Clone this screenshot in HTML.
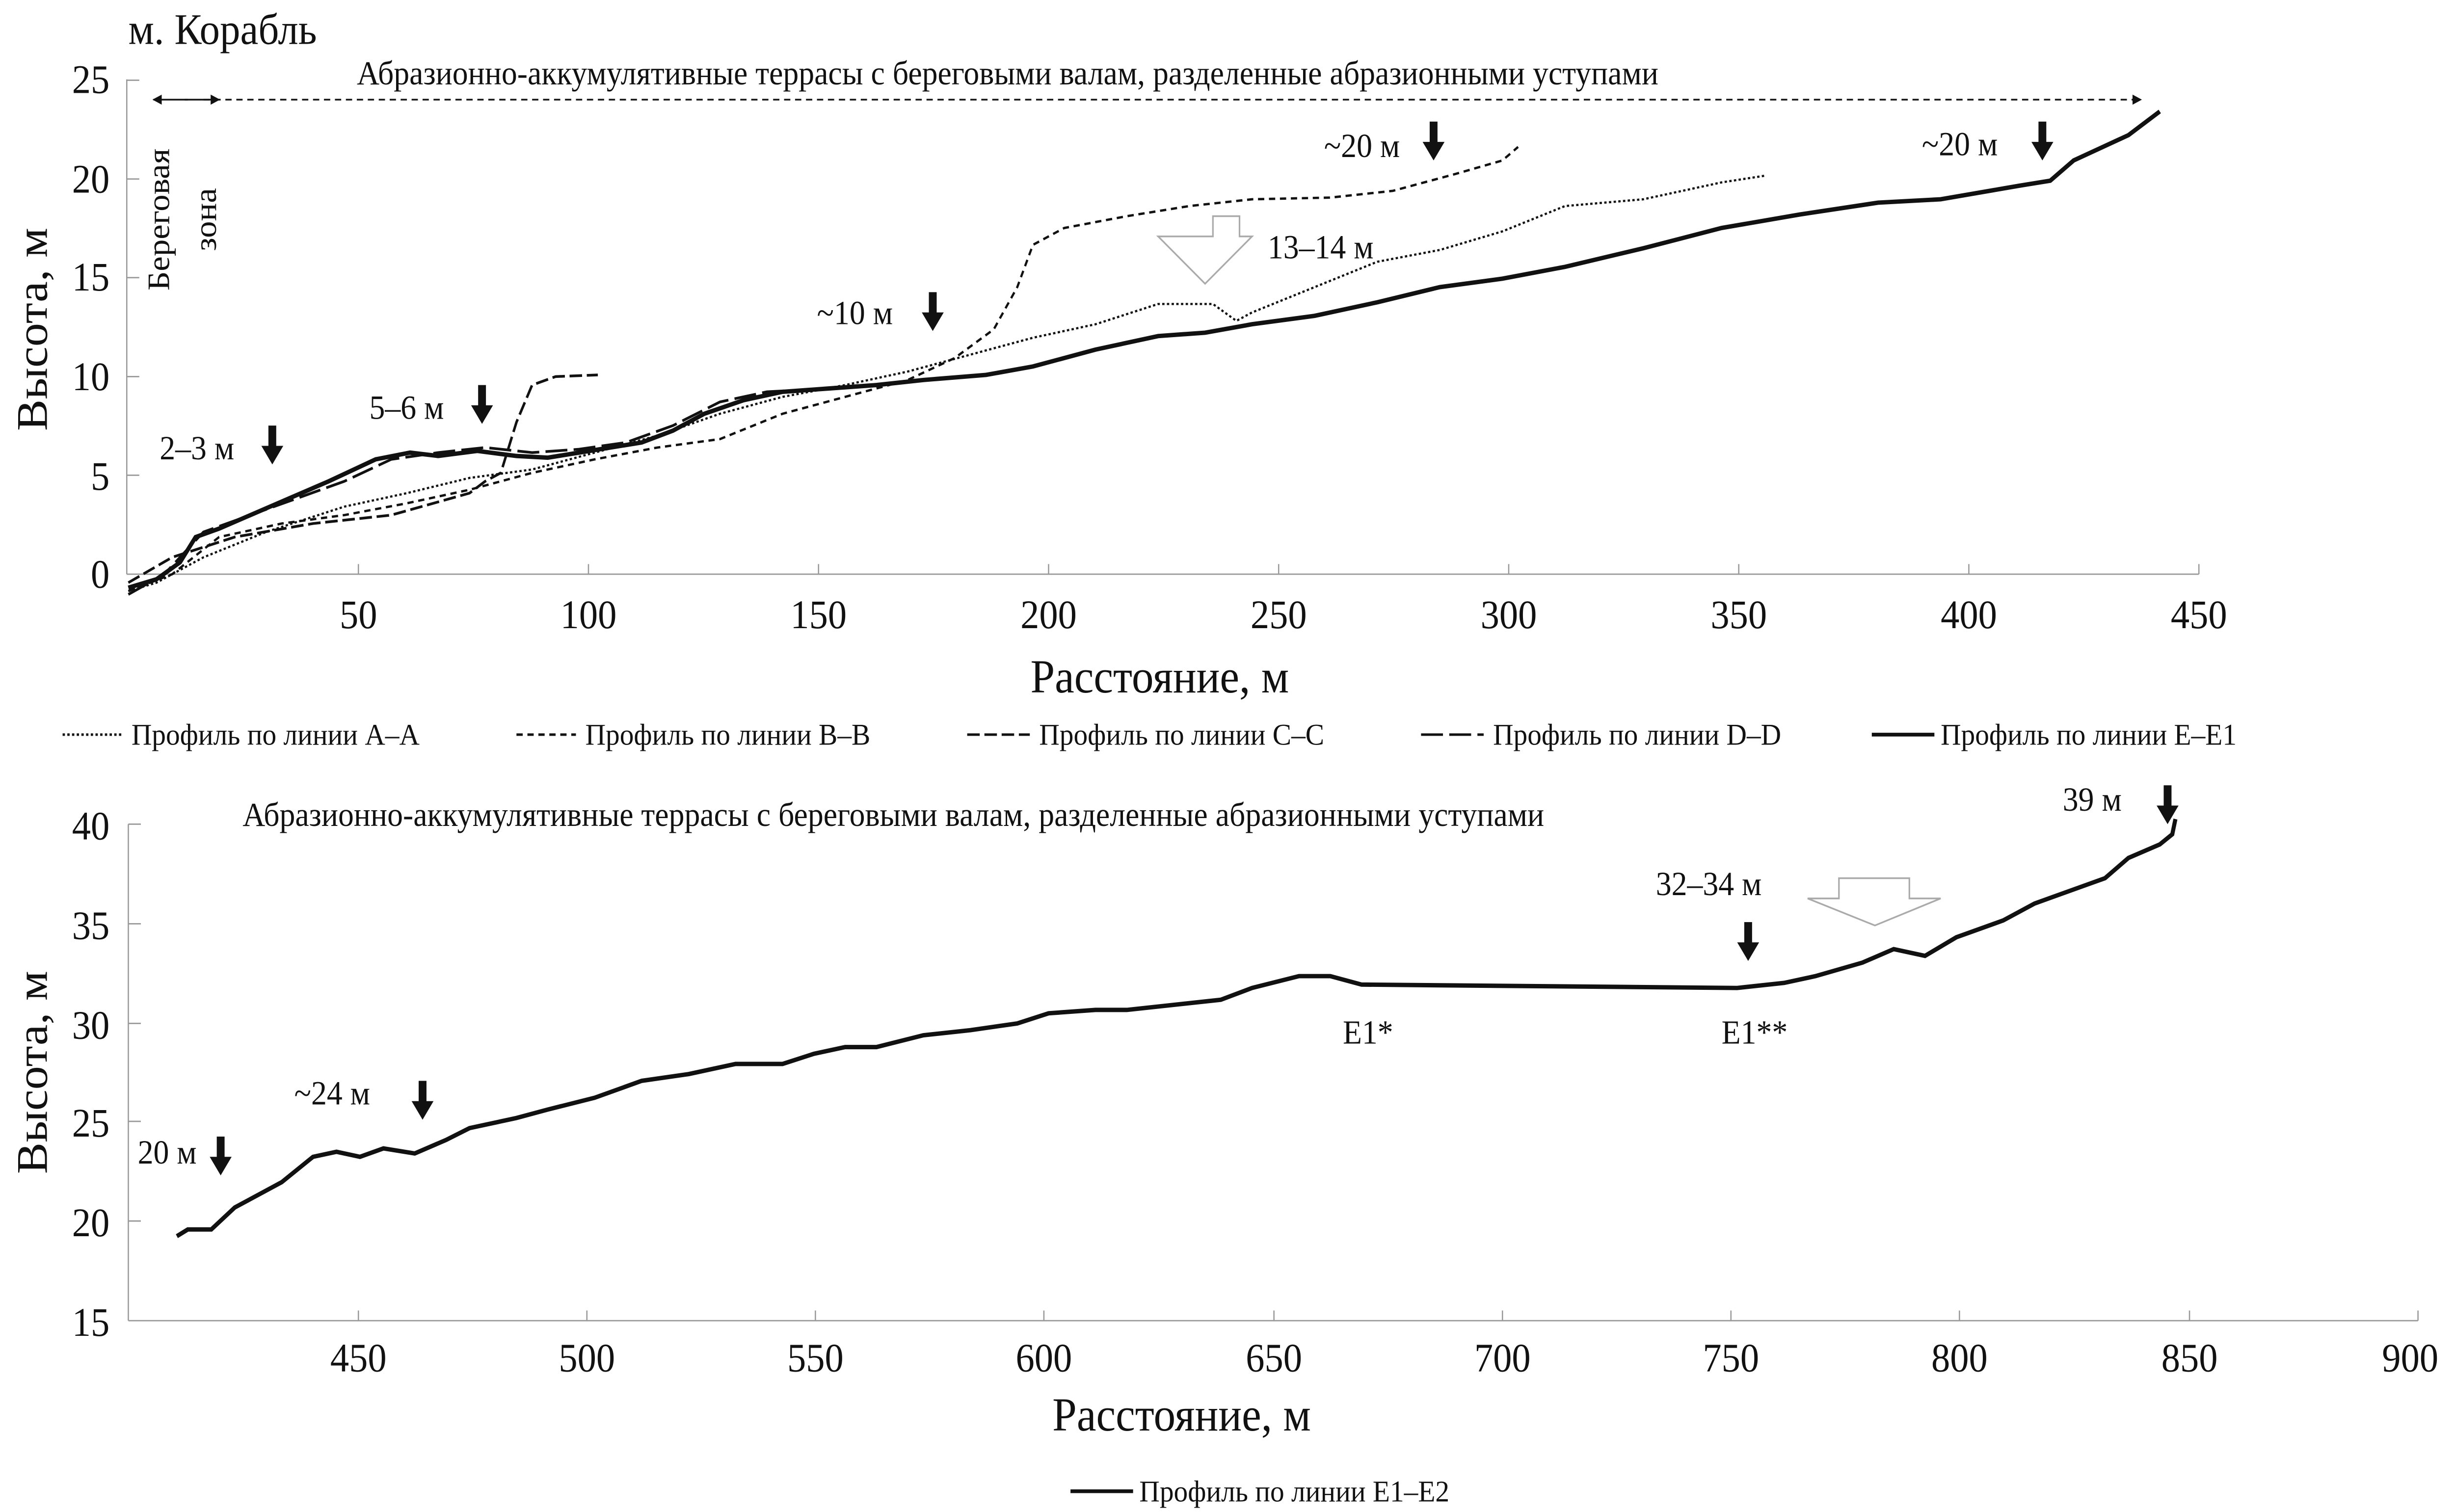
<!DOCTYPE html>
<html><head><meta charset="utf-8"><style>html,body{margin:0;padding:0;background:#fff;overflow:hidden;width:100%;height:100%}svg{display:block;width:100vw;height:100vh}text{font-family:"Liberation Serif",serif;fill:#111}</style></head><body>
<svg viewBox="0 0 1568 895.3" preserveAspectRatio="none" xmlns="http://www.w3.org/2000/svg">
<defs>
<marker id="ah" viewBox="0 0 10 10" refX="9" refY="5" markerWidth="6" markerHeight="6" orient="auto"><path d="M0,0L10,5L0,10z" fill="#111"/></marker>
<g id="arr"><rect x="-2.5" y="0" width="5" height="14" fill="#111"/><path d="M-7,12L7,12L0,23z" fill="#111"/></g>
</defs>
<!-- TOP CHART -->
<g stroke="#999" stroke-width="0.8" fill="none">
<line x1="81" y1="340" x2="1405" y2="340"/>
<line x1="81" y1="340" x2="81" y2="47"/>
<line x1="81" y1="281.4" x2="89" y2="281.4"/><line x1="81" y1="223" x2="89" y2="223"/><line x1="81" y1="164.4" x2="89" y2="164.4"/><line x1="81" y1="106" x2="89" y2="106"/><line x1="81" y1="47.5" x2="89" y2="47.5"/>
<line x1="229" y1="340" x2="229" y2="334"/><line x1="376" y1="340" x2="376" y2="334"/><line x1="523" y1="340" x2="523" y2="334"/><line x1="670" y1="340" x2="670" y2="334"/><line x1="817" y1="340" x2="817" y2="334"/><line x1="964" y1="340" x2="964" y2="334"/><line x1="1111" y1="340" x2="1111" y2="334"/><line x1="1258" y1="340" x2="1258" y2="334"/><line x1="1405" y1="340" x2="1405" y2="334"/>
</g>
<g font-size="24" text-anchor="end">
<text x="70" y="55">25</text><text x="70" y="114">20</text><text x="70" y="172">15</text><text x="70" y="231">10</text><text x="70" y="290">5</text><text x="70" y="348">0</text>
</g>
<g font-size="24" text-anchor="middle">
<text x="229" y="372">50</text><text x="376" y="372">100</text><text x="523" y="372">150</text><text x="670" y="372">200</text><text x="817" y="372">250</text><text x="964" y="372">300</text><text x="1111" y="372">350</text><text x="1258" y="372">400</text><text x="1405" y="372">450</text>
<text x="741" y="410" font-size="28">Расстояние, м</text>
</g>
<text x="30" y="195" font-size="28" text-anchor="middle" transform="rotate(-90 30 195)">Высота, м</text>
<text x="82" y="26" font-size="26">м. Корабль</text>
<text x="228" y="50" font-size="20">Абразионно-аккумулятивные террасы с береговыми валам, разделенные абразионными уступами</text>
<line x1="130" y1="59" x2="1368" y2="59" stroke="#111" stroke-width="1" stroke-dasharray="4,3" marker-end="url(#ah)"/>
<line x1="120" y1="59" x2="98" y2="59" stroke="#111" stroke-width="1" marker-end="url(#ah)"/>
<line x1="118" y1="59" x2="140" y2="59" stroke="#111" stroke-width="1" marker-end="url(#ah)"/>
<text x="108" y="130" font-size="20" text-anchor="middle" transform="rotate(-90 108 130)">Береговая</text>
<text x="138" y="130" font-size="20" text-anchor="middle" transform="rotate(-90 138 130)">зона</text>
<g font-size="20">
<text x="102" y="272">2–3 м</text><text x="236" y="248">5–6 м</text><text x="522" y="192">~10 м</text><text x="846" y="93">~20 м</text><text x="810" y="153">13–14 м</text><text x="1228" y="92">~20 м</text>
</g>
<use href="#arr" x="174" y="252"/><use href="#arr" x="308" y="228"/><use href="#arr" x="596" y="173"/><use href="#arr" x="916" y="72"/><use href="#arr" x="1305" y="72"/>
<path d="M740,140L775,140L775,128L792,128L792,140L800,140L770,168z" fill="#fff" stroke="#aaa" stroke-width="1"/>
<!-- series -->
<polyline fill="none" stroke="#111" stroke-width="1.3" stroke-dasharray="1.5,1.5" points="82,350 100,345 130,330 170,315 220,300 260,292 300,283 340,278 380,268 420,258 460,245 500,235 540,228 580,220 620,210 660,200 700,192 740,180 775,180 790,190 800,185 840,170 880,155 920,148 960,137 1000,122 1050,118 1100,108 1128,104"/>
<polyline fill="none" stroke="#111" stroke-width="1.4" stroke-dasharray="4,3" points="82,350 110,340 140,318 180,310 220,305 260,298 300,290 340,280 380,272 420,265 460,260 500,245 540,235 580,225 610,212 635,195 650,170 660,145 680,135 720,128 760,122 800,118 850,117 890,113 930,103 960,95 970,87"/>
<polyline fill="none" stroke="#111" stroke-width="1.6" stroke-dasharray="8,3" points="82,345 110,330 150,318 200,310 250,305 300,292 310,285 320,280 330,250 340,228 355,223 382,222"/>
<polyline fill="none" stroke="#111" stroke-width="1.6" stroke-dasharray="14,4" points="82,352 105,340 130,315 160,305 190,295 220,285 250,272 280,268 310,265 340,268 370,266 400,262 430,252 460,238 490,232 530,230 582,226"/>
<polyline fill="none" stroke="#111" stroke-width="2.6" points="82,348 100,343 115,333 125,318 140,313 160,305 185,295 210,285 240,272 262,268 280,270 305,267 330,270 350,271 370,268 390,265 410,262 430,255 450,245 475,237 500,232 530,230 560,228 590,225 630,222 660,217 700,207 740,199 770,197 800,192 840,187 880,179 920,170 960,165 1000,158 1050,147 1100,135 1150,127 1200,120 1240,118 1290,110 1310,107 1325,95 1360,80 1380,66"/>
<!-- legend -->
<g font-size="18" stroke-width="1.5">
<line x1="40" y1="435" x2="78" y2="435" stroke="#111" stroke-dasharray="1.5,1.5"/><text x="84" y="441">Профиль по линии А–А</text>
<line x1="330" y1="435" x2="368" y2="435" stroke="#111" stroke-dasharray="4,3"/><text x="374" y="441">Профиль по линии В–В</text>
<line x1="618" y1="435" x2="658" y2="435" stroke="#111" stroke-dasharray="8,3"/><text x="664" y="441">Профиль по линии С–С</text>
<line x1="908" y1="435" x2="948" y2="435" stroke="#111" stroke-dasharray="14,4"/><text x="954" y="441">Профиль по линии D–D</text>
<line x1="1196" y1="435" x2="1236" y2="435" stroke="#111" stroke-width="2.2"/><text x="1240" y="441">Профиль по линии Е–Е1</text>
</g>
<!-- BOTTOM CHART -->
<g stroke="#999" stroke-width="0.8" fill="none">
<line x1="82" y1="782" x2="1545" y2="782"/>
<line x1="82" y1="782" x2="82" y2="488"/>
<line x1="82" y1="723" x2="90" y2="723"/><line x1="82" y1="664" x2="90" y2="664"/><line x1="82" y1="606" x2="90" y2="606"/><line x1="82" y1="547" x2="90" y2="547"/><line x1="82" y1="488" x2="90" y2="488"/>
<line x1="229" y1="782" x2="229" y2="776"/><line x1="375" y1="782" x2="375" y2="776"/><line x1="521" y1="782" x2="521" y2="776"/><line x1="667" y1="782" x2="667" y2="776"/><line x1="814" y1="782" x2="814" y2="776"/><line x1="960" y1="782" x2="960" y2="776"/><line x1="1106" y1="782" x2="1106" y2="776"/><line x1="1252" y1="782" x2="1252" y2="776"/><line x1="1399" y1="782" x2="1399" y2="776"/><line x1="1545" y1="782" x2="1545" y2="776"/>
</g>
<g font-size="24" text-anchor="end">
<text x="70" y="497">40</text><text x="70" y="556">35</text><text x="70" y="615">30</text><text x="70" y="673">25</text><text x="70" y="732">20</text><text x="70" y="791">15</text>
</g>
<g font-size="24" text-anchor="middle">
<text x="229" y="812">450</text><text x="375" y="812">500</text><text x="521" y="812">550</text><text x="667" y="812">600</text><text x="814" y="812">650</text><text x="960" y="812">700</text><text x="1106" y="812">750</text><text x="1252" y="812">800</text><text x="1399" y="812">850</text><text x="1540" y="812">900</text>
<text x="755" y="847" font-size="28">Расстояние, м</text>
</g>
<text x="30" y="635" font-size="28" text-anchor="middle" transform="rotate(-90 30 635)">Высота, м</text>
<text x="155" y="489" font-size="20">Абразионно-аккумулятивные террасы с береговыми валам, разделенные абразионными уступами</text>
<g font-size="20">
<text x="88" y="689">20 м</text><text x="188" y="654">~24 м</text><text x="1058" y="530">32–34 м</text><text x="1318" y="480">39 м</text><text x="858" y="618">Е1*</text><text x="1100" y="618">Е1**</text>
</g>
<use href="#arr" x="141" y="673"/><use href="#arr" x="270" y="640"/><use href="#arr" x="1117" y="546"/><use href="#arr" x="1385" y="465"/>
<path d="M1175,520L1220,520L1220,532L1240,532L1198,548L1155,532L1175,532z" fill="#fff" stroke="#aaa" stroke-width="1"/>
<polyline fill="none" stroke="#111" stroke-width="2.6" points="113,732 120,728 135,728 150,715 180,700 200,685 215,682 230,685 245,680 265,683 285,675 300,668 330,662 350,657 380,650 410,640 440,636 470,630 500,630 520,624 540,620 560,620 590,613 620,610 650,606 670,600 700,598 720,598 750,595 780,592 800,585 830,578 850,578 870,583 1110,585 1140,582 1160,578 1190,570 1210,562 1230,566 1250,555 1280,545 1300,535 1330,525 1345,520 1360,508 1380,500 1388,494 1390,485"/>
<line x1="684" y1="883" x2="724" y2="883" stroke="#111" stroke-width="2.2"/>
<text x="728" y="889" font-size="18">Профиль по линии Е1–Е2</text>
</svg>
</body></html>
